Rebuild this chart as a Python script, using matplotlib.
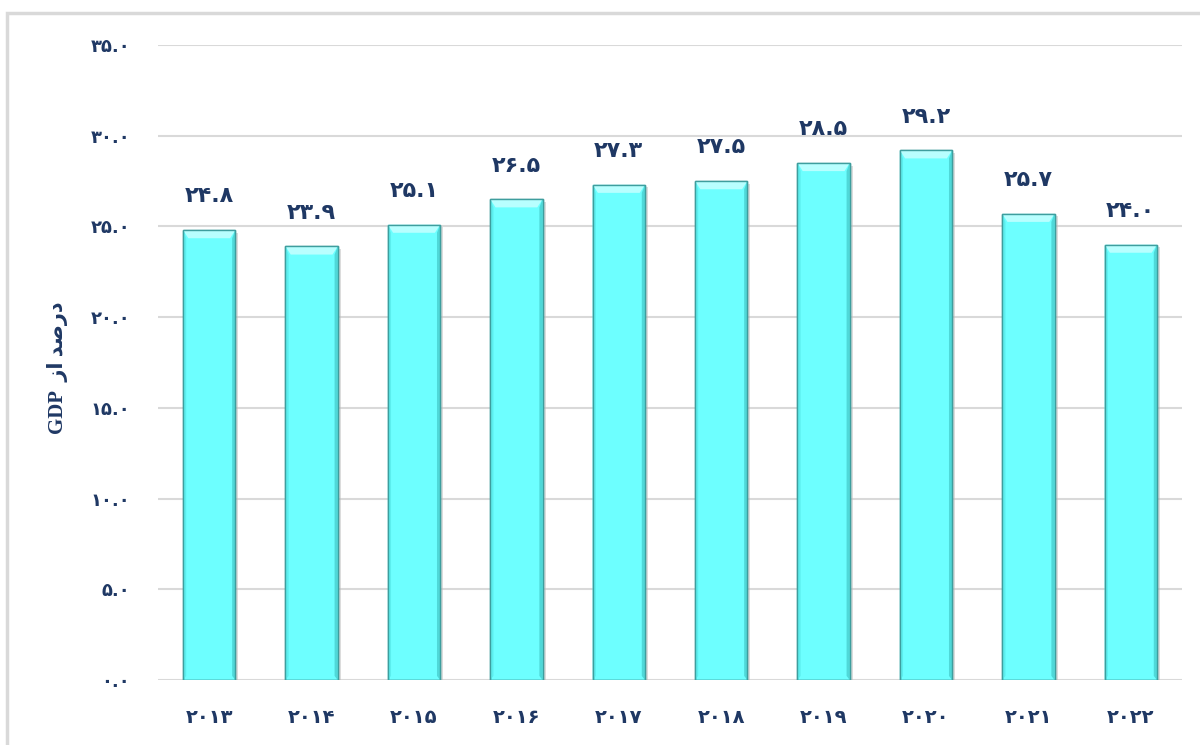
import matplotlib
matplotlib.use("Agg")
import matplotlib.pyplot as plt
from matplotlib.patches import Rectangle, Polygon

years = ["۲۰۱۳", "۲۰۱۴", "۲۰۱۵", "۲۰۱۶", "۲۰۱۷", "۲۰۱۸", "۲۰۱۹", "۲۰۲۰", "۲۰۲۱", "۲۰۲۲"]
values = [24.8, 23.9, 25.1, 26.5, 27.3, 27.5, 28.5, 29.2, 25.7, 24.0]
value_labels = ["۲۴.۸", "۲۳.۹", "۲۵.۱", "۲۶.۵", "۲۷.۳", "۲۷.۵", "۲۸.۵", "۲۹.۲", "۲۵.۷", "۲۴.۰"]
yticks = [0, 5, 10, 15, 20, 25, 30, 35]
ytick_labels = ["۰.۰", "۵.۰", "۱۰.۰", "۱۵.۰", "۲۰.۰", "۲۵.۰", "۳۰.۰", "۳۵.۰"]
# "درصد از GDP" in visual (shaped, left-to-right) order
ylabel = "GDP  \uFEAF\uFE8D \uFEAA\uFEBB\uFEAD\uFEA9"

navy = "#1F3864"
W, H = 1200, 745
fig = plt.figure(figsize=(W / 100, H / 100), dpi=100)
fig.patch.set_facecolor("white")

# figure frame (left and top edges visible)
frame = Rectangle((7 / W, -0.05), 1.1, (H - 13) / H + 0.05, transform=fig.transFigure,
                  fill=False, edgecolor="#D9D9D9", linewidth=2.5, zorder=0)
fig.add_artist(frame)

ax = fig.add_axes([158 / W, 65 / H, (1182 - 158) / W, (680 - 45) / H])
x = list(range(len(years)))
width = 0.51
bars = ax.bar(x, values, width=width, color="#6DFFFF", edgecolor="#3E9E9E",
              linewidth=1.0, zorder=3)

# bevel effect + soft shadow
for b in bars:
    x0, y0 = b.get_x(), b.get_y()
    w, h = b.get_width(), b.get_height()
    dx, dy = w * 0.1, 0.45
    ax.add_patch(Rectangle((x0 + 0.03, y0), w, h - 0.15, facecolor="#BBBBBB",
                           edgecolor="none", alpha=0.5, zorder=2))
    ax.add_patch(Polygon([(x0, y0 + h), (x0 + w, y0 + h), (x0 + w - dx, y0 + h - dy),
                          (x0 + dx, y0 + h - dy)], closed=True, facecolor="#B8FFFF",
                         edgecolor="none", zorder=4))
    ax.add_patch(Polygon([(x0 + w, y0 + h), (x0 + w, y0), (x0 + w - dx * 0.6, y0 + dy * 0.5),
                          (x0 + w - dx * 0.6, y0 + h - dy)], closed=True, facecolor="#4FD8D8",
                         edgecolor="none", zorder=4))
    ax.add_patch(Polygon([(x0, y0 + h), (x0, y0), (x0 + dx * 0.6, y0 + dy * 0.5),
                          (x0 + dx * 0.6, y0 + h - dy)], closed=True, facecolor="#5CEEEE",
                         edgecolor="none", zorder=4))
    ax.add_patch(Rectangle((x0, y0), w, h, fill=False, edgecolor="#3E9E9E",
                           linewidth=1.0, zorder=5))

for xi, v, lab in zip(x, values, value_labels):
    ax.annotate(lab, (xi, v), xytext=(0, 17), textcoords="offset points",
                ha="center", va="bottom", fontsize=16, fontweight="bold",
                color=navy, family="DejaVu Sans")

ax.set_xlim(-0.5, len(years) - 0.5)
ax.set_ylim(0, 35)
ax.set_yticks(yticks)
ax.set_yticklabels(ytick_labels, fontsize=13, fontweight="bold", color=navy)
ax.set_xticks(x)
ax.set_xticklabels(years, fontsize=14, fontweight="bold", color=navy)
ax.tick_params(axis="y", length=0, pad=20)
ax.tick_params(axis="x", length=0, pad=20)
ax.grid(axis="y", color="#D9D9D9", linewidth=1.5, zorder=0)
ax.set_axisbelow(True)
for s in ax.spines.values():
    s.set_visible(False)

fig.text(58 / W, (680 + 45) / 2 / H + 0.02, ylabel, rotation=90, ha="center", va="center",
         fontsize=15, fontweight="bold", color=navy,
         family=["Liberation Serif", "DejaVu Sans"])

fig.savefig("out.png", dpi=100, facecolor="white")
